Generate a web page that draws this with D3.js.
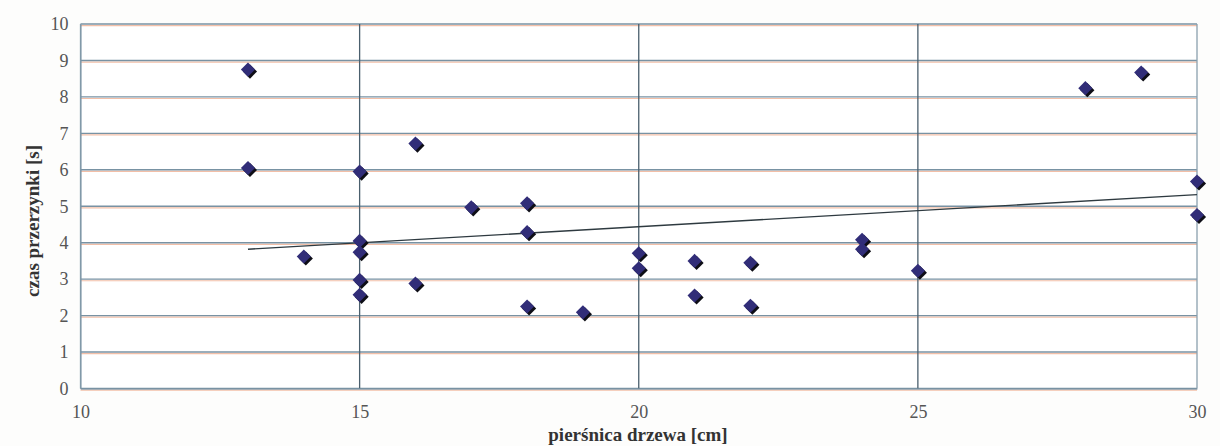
<!DOCTYPE html>
<html><head><meta charset="utf-8">
<script src="https://cdn.jsdelivr.net/npm/d3@7"></script>
<style>body{margin:0;background:#fdfdfc;} svg{display:block;} text{font-family:"Liberation Serif","Times New Roman","DejaVu Serif",serif;}</style>
</head><body>
<svg id="c" width="1220" height="446"></svg>
<script>
const diameter = [13,13,14,15,15,15,15,15,16,16,17,18,18,18,19,20,20,21,21,22,22,24,24,25,28,29,30,30];
const cutTime  = [8.75,6.05,3.62,5.95,4.05,3.74,2.98,2.57,6.72,2.88,4.97,5.08,4.29,2.25,2.09,3.71,3.30,3.50,2.55,3.45,2.27,4.08,3.82,3.23,8.24,8.67,5.68,4.76];
const trendX = [13,30];
const trendY = [3.82,5.32];
const xTicks = [10,15,20,25,30];
const yTicks = [0,1,2,3,4,5,6,7,8,9,10];
const xTitle = "pierśnica drzewa [cm]";
const yTitle = "czas przerzynki [s]";

const FONT = "'Liberation Serif','Times New Roman','DejaVu Serif',serif";
const svg = d3.select("#c");
const L=80.5, R=1197, T=24, B=388.5;
const x = d3.scaleLinear().domain([10,30]).range([L,R]);
const y = d3.scaleLinear().domain([0,10]).range([B,T]);

svg.append("rect").attr("x",L).attr("y",T).attr("width",R-L).attr("height",B-T).attr("fill","#ffffff");

// horizontal gridlines (with salmon fringe as in scan)
const hg = svg.append("g");
hg.selectAll("line.o").data(yTicks).join("line")
  .attr("x1",L).attr("x2",R).attr("y1",d=>y(d)+1.6).attr("y2",d=>y(d)+1.6)
  .attr("stroke","#f2bfa8").attr("stroke-width",1.2);
hg.selectAll("line.b").data(yTicks).join("line")
  .attr("x1",L).attr("x2",R).attr("y1",d=>y(d)).attr("y2",d=>y(d))
  .attr("stroke","#7892a3").attr("stroke-width",1.4);

// vertical gridlines
svg.append("g").selectAll("line").data(xTicks).join("line")
  .attr("x1",d=>x(d)).attr("x2",d=>x(d)).attr("y1",T).attr("y2",B)
  .attr("stroke",d=>(d===10||d===30)?"#8aa0ae":"#4a5f6d").attr("stroke-width",1.3);

// axes
const xa = svg.append("g").attr("transform",`translate(0,${B})`)
  .call(d3.axisBottom(x).tickValues(xTicks).tickSize(0).tickPadding(17).tickFormat(d3.format("d")));
xa.attr("font-family",FONT);
xa.select(".domain").attr("stroke","#7892a3");
xa.selectAll("text").attr("font-family",FONT).attr("font-size",18).attr("fill","#555");
const ya = svg.append("g").attr("transform",`translate(${L},0)`)
  .call(d3.axisLeft(y).tickValues(yTicks).tickSize(0).tickPadding(12).tickFormat(d3.format("d")));
ya.attr("font-family",FONT);
ya.select(".domain").attr("stroke","#7892a3");
ya.selectAll("text").attr("font-family",FONT).attr("font-size",18).attr("fill","#555");

// trend line
const line = d3.line().x(d=>x(d[0])).y(d=>y(d[1]));
svg.append("path").datum(d3.zip(trendX,trendY)).attr("d",line)
  .attr("fill","none").attr("stroke","#2e3a40").attr("stroke-width",1.4);

// markers: rotated squares
const sym = d3.symbol().type(d3.symbolSquare).size(100);
const pts = d3.zip(diameter,cutTime);
svg.append("g").selectAll("path").data(pts).join("path")
  .attr("d",sym).attr("transform",d=>`translate(${x(d[0])+2},${y(d[1])+2}) rotate(45)`)
  .attr("fill","#0e0e16");
svg.append("g").selectAll("path").data(pts).join("path")
  .attr("d",sym).attr("transform",d=>`translate(${x(d[0])},${y(d[1])}) rotate(45)`)
  .attr("fill","#312d78");

// titles
svg.append("text").attr("x",638).attr("y",441).attr("text-anchor","middle")
  .attr("font-family",FONT).attr("font-weight","bold").attr("font-size",19).attr("fill","#333")
  .text(xTitle);
svg.append("text").attr("transform",`translate(39,221) rotate(-90)`).attr("text-anchor","middle")
  .attr("font-family",FONT).attr("font-weight","bold").attr("font-size",19).attr("fill","#333")
  .text(yTitle);
</script>
</body></html>
